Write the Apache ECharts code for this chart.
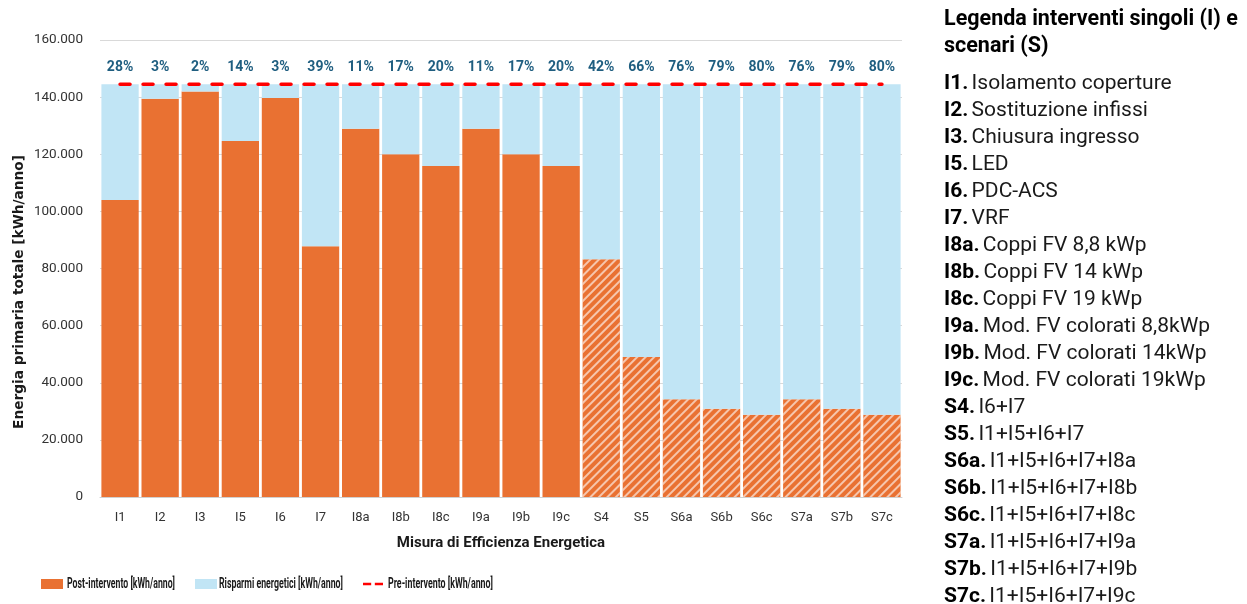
<!DOCTYPE html>
<html>
<head>
<meta charset="utf-8">
<script src="https://cdn.jsdelivr.net/npm/echarts@6/dist/echarts.min.js"></script>
<style>
  html, body { margin: 0; padding: 0; background: #ffffff; }
  #chart { width: 1247px; height: 604px; }
</style>
</head>
<body>
<div id="chart"></div>
<script>
const categories = ['I1', 'I2', 'I3', 'I5', 'I6', 'I7', 'I8a', 'I8b', 'I8c', 'I9a', 'I9b', 'I9c',
    'S4', 'S5', 'S6a', 'S6b', 'S6c', 'S7a', 'S7b', 'S7c'];
const postValues = [104000, 139400, 142000, 124600, 139700, 87800, 128900, 120000, 115900, 128900, 120000, 115900,
    83200, 49000, 34200, 30900, 28800, 34200, 30900, 28800];
const preValue = 144500;
const savingLabels = ['28%', '3%', '2%', '14%', '3%', '39%', '11%', '17%', '20%', '11%', '17%', '20%',
    '42%', '66%', '76%', '79%', '80%', '76%', '79%', '80%'];
const seriesNames = ['Post-intervento [kWh/anno]', 'Risparmi energetici [kWh/anno]', 'Pre-intervento [kWh/anno]'];
const legendCodes = ['I1.', 'I2.', 'I3.', 'I5.', 'I6.', 'I7.', 'I8a.', 'I8b.', 'I8c.', 'I9a.', 'I9b.', 'I9c.',
    'S4.', 'S5.', 'S6a.', 'S6b.', 'S6c.', 'S7a.', 'S7b.', 'S7c.'];
const legendDescs = ['Isolamento coperture', 'Sostituzione infissi', 'Chiusura ingresso', 'LED', 'PDC-ACS', 'VRF',
    'Coppi FV 8,8 kWp', 'Coppi FV 14 kWp', 'Coppi FV 19 kWp', 'Mod. FV colorati 8,8kWp', 'Mod. FV colorati 14kWp',
    'Mod. FV colorati 19kWp', 'I6+I7', 'I1+I5+I6+I7', 'I1+I5+I6+I7+I8a', 'I1+I5+I6+I7+I8b', 'I1+I5+I6+I7+I8c',
    'I1+I5+I6+I7+I9a', 'I1+I5+I6+I7+I9b', 'I1+I5+I6+I7+I9c'];

const ORANGE = '#E97132';
const LIGHTBLUE = '#C1E5F5';
const font = 'Roboto, sans-serif';

const hatch = {
    symbol: 'rect',
    symbolSize: 1,
    dashArrayX: [[1, 0]],
    dashArrayY: [2, 4],
    rotation: -Math.PI / 4,
    color: 'rgba(255,255,255,0.6)'
};

const postData = postValues.map((v, i) => (
    categories[i].startsWith('S') ? { value: v, itemStyle: { decal: hatch } } : v
));
const savingData = postValues.map(v => preValue - v);
const preData = categories.map(() => preValue);

const chart = echarts.init(document.getElementById('chart'), null, { renderer: 'canvas' });

// right-hand legend of the codes
const legendItems = legendCodes.map((code, i) => ({
    type: 'text',
    x: 944,
    y: 84 + i * 27,
    style: {
        text: '{b|' + code + '} {r|' + legendDescs[i] + '}',
        verticalAlign: 'middle',
        rich: {
            b: { fontFamily: font, fontWeight: 'bold', fontSize: 21, fill: '#000000' },
            r: { fontFamily: font, fontSize: 21, fill: '#1a1a1a' }
        }
    }
}));

// bottom legend: icons from the legend component, condensed text drawn as graphic
const legendFont = 'bold 14px Roboto';
const measure = document.createElement('canvas').getContext('2d');
measure.font = legendFont;
const legendLeft = [36, 190, 357];
const textLeft = [67, 219, 388];
const textWidth = [108, 124, 105];
const legendTexts = seriesNames.map((name, i) => ({
    type: 'text',
    x: textLeft[i],
    y: 584,
    scaleX: textWidth[i] / measure.measureText(name).width,
    style: {
        text: name,
        font: legendFont,
        verticalAlign: 'middle',
        fill: '#1a1a1a'
    }
}));
const dashIcon = 'path://M0,0h0.01v0.01h-0.01z M0,4h9v3h-9z M13,4h9v3h-9z M21.99,10.99h0.01v0.01h-0.01z';
const legendIcons = [
    { name: seriesNames[0], icon: 'rect' },
    { name: seriesNames[1], icon: 'rect' },
    { name: seriesNames[2], icon: dashIcon }
];

const option = {
    backgroundColor: '#ffffff',
    animation: false,
    textStyle: { fontFamily: font },
    grid: { left: 100, right: 345, top: 40, bottom: 107 },
    legend: legendIcons.map((item, i) => ({
        left: legendLeft[i],
        top: 574,
        itemWidth: 22,
        itemHeight: 10,
        formatter: () => '',
        data: [item]
    })),
    xAxis: {
        type: 'category',
        data: categories,
        name: 'Misura di Efficienza Energetica',
        nameLocation: 'middle',
        nameGap: 39,
        nameTextStyle: { fontWeight: 'bold', fontSize: 15, color: '#1a1a1a' },
        axisLine: { lineStyle: { color: '#d0d0d0' } },
        axisTick: { show: false },
        axisLabel: { color: '#333333', fontSize: 13, margin: 14 }
    },
    yAxis: {
        type: 'value',
        min: 0,
        max: 160000,
        interval: 20000,
        axisLine: { show: false },
        axisTick: { show: false },
        splitLine: { lineStyle: { color: '#d9d9d9' } },
        axisLabel: {
            color: '#333333',
            fontSize: 13.5,
            margin: 17,
            formatter: v => v.toString().replace(/\B(?=(\d{3})+(?!\d))/g, '.')
        }
    },
    series: [
        {
            name: seriesNames[0],
            type: 'bar',
            stack: 'tot',
            barCategoryGap: '7%',
            itemStyle: { color: ORANGE },
            data: postData
        },
        {
            name: seriesNames[1],
            type: 'bar',
            stack: 'tot',
            itemStyle: { color: LIGHTBLUE },
            label: {
                show: true,
                position: 'top',
                distance: 10,
                fontWeight: 'bold',
                fontSize: 14,
                color: '#1F5E80',
                formatter: p => savingLabels[p.dataIndex]
            },
            data: savingData
        },
        {
            name: seriesNames[2],
            type: 'line',
            showSymbol: false,
            symbol: 'none',
            z: 5,
            lineStyle: { color: '#FF0000', width: 3.5, type: [10, 13], cap: 'round' },
            itemStyle: { color: '#FF0000' },
            data: preData
        }
    ],
    graphic: [
        {
            type: 'text',
            x: 19,
            y: 292,
            rotation: Math.PI / 2,
            style: {
                text: 'Energia primaria totale [kWh/anno]',
                fontFamily: '"DejaVu Sans", sans-serif',
                fontWeight: 'bold',
                fontSize: 13.7,
                align: 'center',
                verticalAlign: 'middle',
                fill: '#1a1a1a'
            }
        },
        {
            type: 'text',
            x: 944,
            y: 33.5,
            style: {
                text: 'Legenda interventi singoli (I) e\nscenari (S)',
                fontFamily: font,
                fontWeight: 'bold',
                fontSize: 21.5,
                lineHeight: 27,
                verticalAlign: 'middle',
                fill: '#000000'
            }
        },
        ...legendTexts,
        ...legendItems
    ]
};

chart.setOption(option);
</script>
</body>
</html>
